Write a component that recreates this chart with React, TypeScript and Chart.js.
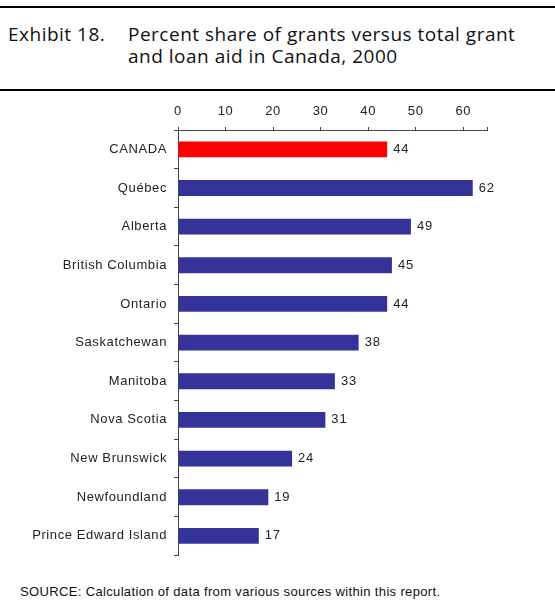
import React, { useEffect, useRef } from "react";
import { Chart, registerables } from "chart.js";

Chart.register(...registerables);

const categories = [
  "CANADA",
  "Québec",
  "Alberta",
  "British Columbia",
  "Ontario",
  "Saskatchewan",
  "Manitoba",
  "Nova Scotia",
  "New Brunswick",
  "Newfoundland",
  "Prince Edward Island",
];
const values = [44, 62, 49, 45, 44, 38, 33, 31, 24, 19, 17];
const barColors = categories.map((c) => (c === "CANADA" ? "#FF0000" : "#333399"));
const xTickMax = 65;
const xTickStep = 10;

const FONT = "'Liberation Sans', Arial, sans-serif";
const TITLE_FONT = "'Open Sans', 'Noto Sans', sans-serif";

const spacingPlugin = {
  id: "letterSpacing",
  beforeDraw(chart: any) {
    chart.ctx.letterSpacing = "0.6px";
  },
};

const valueLabelPlugin = {
  id: "valueLabels",
  afterDatasetsDraw(chart: any) {
    const { ctx } = chart;
    const meta = chart.getDatasetMeta(0);
    ctx.save();
    ctx.letterSpacing = "0.8px";
    ctx.font = `13px ${FONT}`;
    ctx.fillStyle = "#222";
    ctx.textAlign = "left";
    ctx.textBaseline = "middle";
    meta.data.forEach((bar: any, i: number) => {
      const v = chart.data.datasets[0].data[i];
      ctx.fillText(String(v), bar.x + 6, bar.y);
    });
    ctx.restore();
  },
};

export default function App() {
  const ref = useRef<HTMLCanvasElement | null>(null);

  useEffect(() => {
    if (!ref.current) return;
    const chart = new Chart(ref.current, {
      type: "bar",
      data: {
        labels: categories,
        datasets: [
          {
            data: values,
            backgroundColor: barColors,
            barPercentage: 0.41,
            categoryPercentage: 1,
          },
        ],
      },
      options: {
        indexAxis: "y",
        animation: false,
        responsive: false,
        maintainAspectRatio: false,
        layout: { padding: { top: 0, left: 0, right: 68, bottom: 12 } },
        plugins: {
          legend: { display: false },
          tooltip: { enabled: false },
          title: { display: false },
        },
        scales: {
          x: {
            position: "top",
            min: 0,
            max: xTickMax,
            afterFit(scale: any) {
              scale.height = 35;
            },
            ticks: {
              stepSize: xTickStep,
              color: "#222",
              padding: 8,
              font: { family: FONT, size: 13 },
              callback: (v: any) => (Number(v) % xTickStep === 0 ? String(v) : ""),
            },
            grid: {
              drawOnChartArea: false,
              drawTicks: true,
              tickLength: 3,
              color: "#444",
            },
            border: { display: true, color: "#444", width: 1 },
          },
          y: {
            afterFit(scale: any) {
              scale.width = 178;
            },
            ticks: {
              color: "#222",
              padding: 7,
              font: { family: FONT, size: 13 },
            },
            grid: {
              offset: true,
              drawOnChartArea: false,
              drawTicks: true,
              tickLength: 4,
              color: "#444",
            },
            border: { display: true, color: "#444", width: 1 },
          },
        },
      },
      plugins: [spacingPlugin, valueLabelPlugin],
    });
    return () => chart.destroy();
  }, []);

  return (
    <div
      style={{
        position: "absolute",
        left: 0,
        top: 0,
        width: 555,
        height: 610,
        background: "#fff",
        fontFamily: FONT,
        color: "#111",
      }}
    >
      <div style={{ position: "absolute", left: 0, top: 6, width: 555, height: 2, background: "#000" }} />
      <div
        style={{
          position: "absolute",
          left: 8,
          top: 23,
          fontFamily: TITLE_FONT,
          fontSize: 19,
          letterSpacing: "0.5px",
          lineHeight: "22px",
          display: "flex",
          whiteSpace: "nowrap",
          color: "#111",
        }}
      >
        <div style={{ width: 120 }}>Exhibit 18.</div>
        <div>
          Percent share of grants versus total grant
          <br />
          and loan aid in Canada, 2000
        </div>
      </div>
      <div style={{ position: "absolute", left: 0, top: 89, width: 555, height: 2, background: "#000" }} />
      <canvas
        ref={ref}
        width={555}
        height={475}
        style={{ position: "absolute", left: 0, top: 95, width: 555, height: 475 }}
      />
      <div
        style={{
          position: "absolute",
          left: 20,
          top: 584,
          fontSize: 13,
          letterSpacing: "0.35px",
          lineHeight: "15px",
          color: "#111",
          whiteSpace: "nowrap",
        }}
      >
        SOURCE: Calculation of data from various sources within this report.
      </div>
    </div>
  );
}
